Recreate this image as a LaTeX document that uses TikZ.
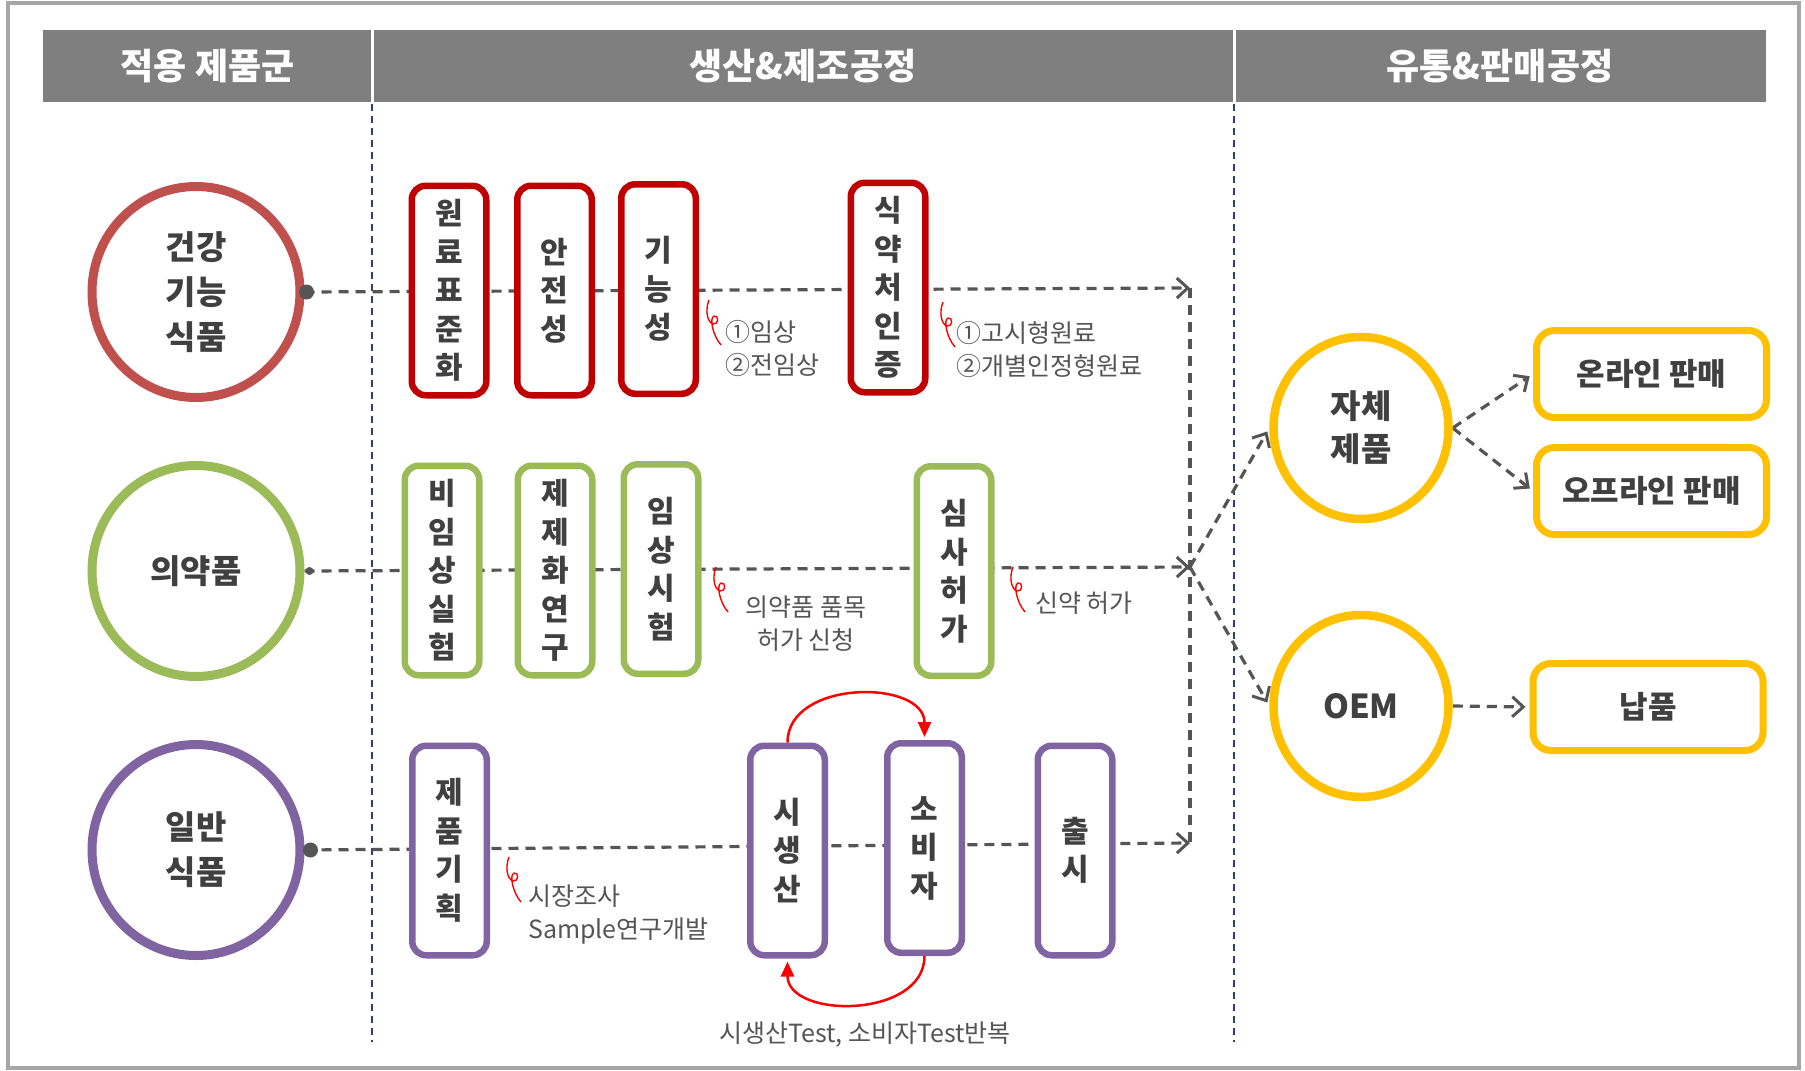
\documentclass[tikz,border=0pt]{standalone}
\usepackage{fontspec}
\setmainfont{Noto Sans CJK KR}
\usetikzlibrary{arrows.meta,shapes.geometric}
\definecolor{hdr}{HTML}{7F7F7F}
\definecolor{frm}{HTML}{A6A6A6}
\definecolor{navy}{HTML}{2F3F6F}
\definecolor{txt}{HTML}{404040}
\definecolor{conn}{HTML}{555555}
\definecolor{cred}{HTML}{C0504D}
\definecolor{bred}{HTML}{C00000}
\definecolor{cgreen}{HTML}{9BBB59}
\definecolor{cpurple}{HTML}{8064A2}
\definecolor{cyellow}{HTML}{FFC000}
\pgfdeclarelayer{background}
\pgfsetlayers{background,main}
\tikzset{
  catc/.style={ellipse, draw=#1, line width=9pt, fill=white, minimum width=208pt, minimum height=211pt, inner sep=0pt, align=center, text=txt, font=\fontsize{33}{45}\selectfont\bfseries},
  pbox/.style={rectangle, rounded corners=14pt, draw=#1, line width=6.5pt, fill=white, minimum width=74.5pt, minimum height=209.5pt, inner sep=0pt, align=center, text=txt, font=\fontsize{30}{38.5}\selectfont\bfseries},
  ycirc/.style={ellipse, draw=cyellow, line width=8.5pt, fill=white, minimum width=175pt, minimum height=182pt, inner sep=0pt, align=center, text=txt, font=\fontsize{33}{43}\selectfont\bfseries},
  ybox/.style={rectangle, rounded corners=18pt, draw=cyellow, line width=7pt, fill=white, minimum width=230pt, minimum height=87pt, inner sep=0pt, text=txt, font=\fontsize{31}{37}\selectfont\bfseries},
  hdrtext/.style={text=white, font=\fontsize{36}{40}\selectfont\bfseries, inner sep=0pt},
  ann/.style={text=conn, font=\fontsize{25}{33}\selectfont, inner sep=0pt},
  dline/.style={draw=conn, line width=3.2pt, dash pattern=on 10pt off 7pt},
  darrow/.style={dline, -{Straight Barb[length=11pt,width=20pt,line width=3pt]}},
  nline/.style={draw=navy, line width=1.8pt, dash pattern=on 7pt off 5pt},
  rarc/.style={draw=red, line width=2.5pt, -{Triangle[length=15pt,width=13pt]}},
  redcurl/.pic={\draw[red, line width=1.4pt] (2,0) .. controls (-2,10) and (0,22) .. (6,24) .. controls (12,25) and (12,15) .. (7,16) .. controls (2,18) and (6,36) .. (14,45);},
}
\begin{document}
\begin{tikzpicture}[x=1pt,y=-1pt]
\useasboundingbox (0,0) rectangle (1805,1071);
\begin{pgfonlayer}{background}
\fill[white] (0,0) rectangle (1805,1071);
\end{pgfonlayer}
\draw[frm, line width=4pt] (8,3) rectangle (1799,1068);
% header
\fill[hdr] (43,30) rectangle (1766,102);
\draw[white, line width=3pt] (372,30) -- (372,102);
\draw[white, line width=3pt] (1234,30) -- (1234,102);
\node[hdrtext] (h1) at (207.5,66) {적용 제품군};
\node[hdrtext] (h2) at (803,66) {생산\&제조공정};
\node[hdrtext] (h3) at (1500,66) {유통\&판매공정};
% category circles
\node[catc=cred] (c1) at (196,292) {건강\\기능\\식품};
\node[catc=cgreen] (c2) at (196,571) {의약품};
\node[catc=cpurple] (c3) at (196,850) {일반\\식품};
% red boxes
\node[pbox=bred] (r1) at (449,290.5) {원\\료\\표\\준\\화};
\node[pbox=bred] (r2) at (554.5,290.5) {안\\전\\성};
\node[pbox=bred] (r3) at (658.5,289) {기\\능\\성};
\node[pbox=bred] (r4) at (888,287.5) {식\\약\\처\\인\\증};
% green boxes
\node[pbox=cgreen] (g1) at (442,570.5) {비\\임\\상\\실\\험};
\node[pbox=cgreen] (g2) at (555,570.5) {제\\제\\화\\연\\구};
\node[pbox=cgreen] (g3) at (661,569) {임\\상\\시\\험};
\node[pbox=cgreen] (g4) at (954,571) {심\\사\\허\\가};
% purple boxes
\node[pbox=cpurple] (p1) at (449.5,850.5) {제\\품\\기\\획};
\node[pbox=cpurple] (p2) at (787.5,850.5) {시\\생\\산};
\node[pbox=cpurple] (p3) at (924.5,848) {소\\비\\자};
\node[pbox=cpurple] (p4) at (1075,850.5) {출\\시};
% distribution
\node[ycirc] (own) at (1361,428) {자체\\제품};
\node[ycirc] (oem) at (1361,706) {OEM};
\node[ybox] (onl) at (1651.5,374) {온라인 판매};
\node[ybox] (off) at (1651.5,491) {오프라인 판매};
\node[ybox] (nap) at (1648,707) {납품};
% junction points
\coordinate (t1) at (1190,288);
\coordinate (t2) at (1190,567);
\coordinate (t3) at (1190,843);
% annotations
\node[ann, anchor=west, align=left] (a1) at (725,348.5) {①임상\\②전임상};
\node[ann, anchor=west, align=left] (a2) at (956,349.5) {①고시형원료\\②개별인정형원료};
\node[ann, align=center] (a3) at (806,623.5) {의약품 품목\\허가 신청};
\node[ann] (a4) at (1084,603) {신약 허가};
\node[ann, anchor=west, align=left] (a5) at (528,914.5) {시장조사\\Sample연구개발};
\node[ann] (a6) at (865,1035) {시생산Test, 소비자Test반복};
\pic at (707,300) {redcurl};
\pic at (941,302) {redcurl};
\pic at (714,567) {redcurl};
\pic at (1011,567) {redcurl};
\pic at (507,857) {redcurl};
% red loop arrows
\draw[rarc, shorten >=3pt] (p2.north) .. controls (787.5,679) and (924.5,679) .. (p3.north);
\draw[rarc, shorten >=3pt] (p3.south) .. controls (924.5,1019) and (787.5,1019) .. (p2.south);
% connectors in background
\begin{pgfonlayer}{background}
\draw[nline] (372,104) -- (372,1042);
\draw[nline] (1234,104) -- (1234,1042);
\draw[darrow] (c1.east) -- (t1);
\draw[darrow] (c2.east) -- (t2);
\draw[darrow] (c3.east) -- (t3);
\draw[dline] (t1) -- (t3);
\draw[darrow, shorten >=4pt] (t2) -- (own.west);
\draw[darrow, shorten >=4pt] (t2) -- (oem.west);
\draw[darrow, shorten >=4pt] (own.east) -- (onl.west);
\draw[darrow, shorten >=4pt] (own.east) -- (off.west);
\draw[darrow, shorten >=4pt] (oem.east) -- (nap.west);
\end{pgfonlayer}
% dots
\fill[conn] ([xshift=2pt]c1.east) circle (7.5pt);
\fill[conn] ([xshift=5pt]c2.east) circle (4pt);
\fill[conn] ([xshift=6pt]c3.east) circle (7.5pt);
\end{tikzpicture}
\end{document}
